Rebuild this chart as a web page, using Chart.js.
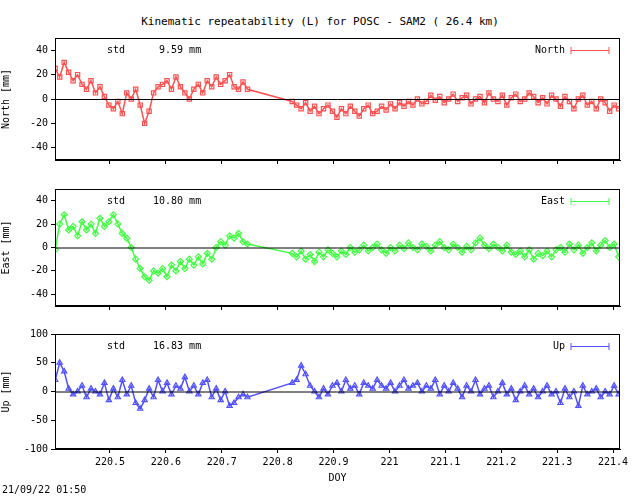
<!DOCTYPE html><html><head><script src="https://cdn.jsdelivr.net/npm/chart.js@4"></script>
<style>body{margin:0;background:#fff;width:640px;height:496px;position:relative;overflow:hidden;font-family:"DejaVu Sans Mono",monospace;font-size:11px}
.p{position:absolute;left:0;width:640px}#t{position:absolute;top:15px;left:0;width:640px;text-align:center;font-size:11px}
#f{position:absolute;left:2px;top:484px;font-size:10px}</style></head><body>
<div id="t">Kinematic repeatability (L) for POSC - SAM2  ( 26.4 km)</div>
<div class="p" style="top:0;height:180px"><canvas id="c1"></canvas></div>
<div class="p" style="top:180px;height:145px"><canvas id="c2"></canvas></div>
<div class="p" style="top:325px;height:171px"><canvas id="c3"></canvas></div>
<div id="f">21/09/22 01:50</div>
<script>
const doy1=[220.402,220.410,220.418,220.426,220.434,220.442,220.450,220.458,220.466,220.474,220.482,220.490,220.498,220.506,220.514,220.522,220.530,220.538,220.546,220.554,220.562,220.570,220.578,220.586,220.594,220.602,220.610,220.618,220.626,220.634,220.642,220.650,220.658,220.666,220.674,220.682,220.690,220.698,220.706,220.714,220.722,220.730,220.738,220.746];
const doy2=[220.826,220.834,220.842,220.850,220.858,220.866,220.874,220.882,220.890,220.898,220.906,220.914,220.922,220.930,220.938,220.946,220.954,220.962,220.970,220.978,220.986,220.994,221.002,221.010,221.018,221.026,221.034,221.042,221.050,221.058,221.066,221.074,221.082,221.090,221.098,221.106,221.114,221.122,221.130,221.138,221.146,221.154,221.162,221.170,221.178,221.186,221.194,221.202,221.210,221.218,221.226,221.234,221.242,221.250,221.258,221.266,221.274,221.282,221.290,221.298,221.306,221.314,221.322,221.330,221.338,221.346,221.354,221.362,221.370,221.378,221.386,221.394,221.402,221.410];
const north=[25,18,30,22,15,20,12,8,15,5,10,2,-5,-8,-2,-12,5,0,8,-5,-20,-10,5,10,12,15,8,18,10,5,0,8,12,5,15,10,18,12,15,20,10,8,14,8,
-2,-5,-8,-3,-10,-6,-12,-8,-5,-10,-15,-8,-12,-6,-10,-14,-8,-5,-12,-10,-6,-9,-4,-8,-3,-6,-2,-5,0,-4,-2,3,-1,2,-3,0,4,-2,1,3,-4,0,2,-3,5,0,-2,3,-5,1,4,-2,0,5,2,-3,1,-4,3,0,-6,2,-2,-8,0,3,-5,-2,-8,0,-3,-10,-5,-8];
const east=[-2,20,28,15,18,10,22,15,20,12,25,18,22,28,20,12,8,0,-10,-18,-25,-28,-20,-22,-18,-25,-15,-20,-12,-18,-10,-15,-8,-14,-5,-10,0,5,2,10,8,12,5,3,
-5,-8,-3,-10,-6,-12,-4,-8,-2,-5,-8,-3,-6,0,-4,-2,2,-3,0,3,-2,-5,0,-3,2,-1,4,0,-2,3,1,-3,2,5,0,-2,3,0,-4,1,-2,4,8,2,-1,3,0,-3,2,-4,-6,-3,-8,-2,-10,-5,-7,-3,-8,-2,0,-4,3,-2,2,-5,0,4,-3,2,6,0,3,-8];
const up=[20,50,35,5,-5,0,10,-10,5,0,-5,15,-15,5,-10,20,-5,10,-20,-30,-15,5,-10,20,0,15,-5,10,5,25,0,10,-5,15,20,-10,5,-15,0,-25,-20,-10,-5,-10,
15,20,45,30,10,0,-10,5,-5,10,15,0,20,5,10,-5,15,10,5,20,10,5,15,0,10,20,5,10,15,0,10,5,20,-5,10,0,15,5,-10,10,0,20,-5,5,10,-10,0,15,-5,5,-15,0,10,-5,5,-10,0,10,-5,0,-20,5,-10,0,-25,10,-5,0,5,-10,0,-5,10,-5];
const doy=doy1.concat(doy2);
const xTicks=[220.5,220.6,220.7,220.8,220.9,221,221.1,221.2,221.3,221.4];
const yTicksNE=[-40,-20,0,20,40];
const yTicksUp=[-100,-50,0,50,100];
const F='"DejaVu Sans Mono"';
function make(id,name,vals,col,std,ymin,ymax,yticks,yt,padTop,xh,labels,style){
 const pts=doy.map((x,i)=>({x:x,y:vals[i]}));
 new Chart(document.getElementById(id),{type:'line',
 data:{datasets:[{data:pts,borderColor:col,backgroundColor:'rgba(0,0,0,0)',borderWidth:1.5,pointStyle:style,pointRadius:3,pointBorderWidth:1.2,pointBorderColor:col}]},
 options:{responsive:true,maintainAspectRatio:false,animation:false,layout:{padding:{top:padTop,right:20,left:0,bottom:0}},
 plugins:{legend:{display:false},tooltip:{enabled:false}},
 scales:{x:{type:'linear',min:220.4016,max:221.4125,afterBuildTicks:s=>{s.ticks=xTicks.map(v=>({value:v}))},
   ticks:{display:labels,color:'#000',font:{family:F,size:10},maxRotation:0,callback:v=>String(+v.toFixed(1))},
   grid:{drawOnChartArea:false,color:'#000',tickLength:4},border:{color:'#000'},
   title:{display:labels,text:'DOY',color:'#000',font:{family:F,size:10},padding:{top:0,bottom:12}},
   afterFit:s=>{s.height=xh}},
  y:{min:ymin,max:ymax,afterBuildTicks:s=>{s.ticks=yticks.map(v=>({value:v}))},ticks:{color:'#000',font:{family:F,size:10}},grid:{drawOnChartArea:false,color:'#000',tickLength:4},border:{color:'#000'},
   title:{display:true,text:yt,color:'#000',font:{family:F,size:10},padding:0},afterFit:s=>{s.width=55}}}},
 plugins:[{id:'x',afterDatasetsDraw(c){const ctx=c.ctx,a=c.chartArea,y0=c.scales.y.getPixelForValue(0);
  ctx.save();ctx.strokeStyle='#000';ctx.lineWidth=1;ctx.beginPath();ctx.moveTo(a.left,y0+.5);ctx.lineTo(a.right,y0+.5);ctx.stroke();
  ctx.strokeRect(a.left+.5,a.top+.5,a.right-a.left-1,a.bottom-a.top-1);
  ctx.fillStyle='#000';ctx.font='10px '+F;ctx.textBaseline='middle';ctx.fillText('std',107,a.top+12);ctx.fillText(std+' mm',153,a.top+12);
  ctx.textAlign='right';ctx.fillText(name,565,a.top+12);
  ctx.strokeStyle=col;ctx.beginPath();ctx.moveTo(571,a.top+12.5);ctx.lineTo(609,a.top+12.5);ctx.moveTo(571,a.top+9);ctx.lineTo(571,a.top+16);ctx.moveTo(609,a.top+9);ctx.lineTo(609,a.top+16);ctx.stroke();
  ctx.restore();}}]});
}
make('c1','North',north,'#ff5050',' 9.59',-50,50,yTicksNE,'North [mm]',38,20,false,'rect');
make('c2','East',east,'#40ff40','10.80',-50,50,yTicksNE,'East [mm]',5,19,false,'rectRot');
make('c3','Up',up,'#5050ff','16.83',-100,100,yTicksUp,'Up [mm]',4,47,true,'triangle');
</script></body></html>
